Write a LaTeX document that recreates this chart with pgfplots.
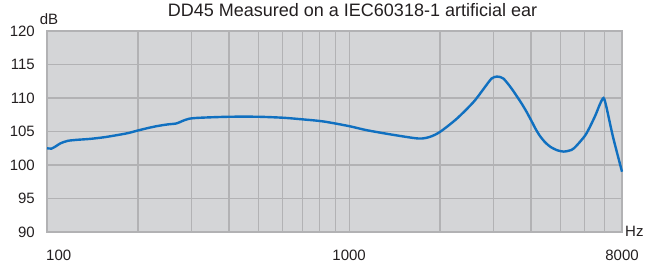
\documentclass[border=0pt]{standalone}
\usepackage{pgfplots}
\pgfplotsset{compat=1.18}
\usepackage{fontspec}
\setmainfont{Liberation Sans}
\definecolor{bg}{RGB}{212,213,215}
\definecolor{gridc}{RGB}{178,178,180}
\definecolor{curve}{RGB}{16,112,192}
\definecolor{txt}{RGB}{35,31,32}
\begin{document}
\begin{tikzpicture}
\useasboundingbox (-47bp,-35bp) rectangle (598bp,232bp);
\begin{axis}[
  at={(0,0)}, anchor=south west,
  scale only axis, width=575bp, height=201bp,
  xmode=log, xmin=100, xmax=8000, ymin=90, ymax=120,
  ytick={90,95,100,105,110,115,120},
  yticklabels={90,95,100,105,110,115,120},
  xtick={1000,8000}, xticklabels={1000,8000},
  extra x ticks={100}, extra x tick labels={100},
  extra x tick style={xticklabel style={anchor=base west, xshift=-1bp}},
  minor xtick={200,300,400,500,600,700,800,900,2000,3000,4000,5000,6000,7000},
  xmajorgrids, xminorgrids, ymajorgrids,
  major grid style={gridc, line width=1.2bp},
  minor grid style={gridc, line width=1.2bp},
  axis background/.style={fill=bg},
  axis line style={gridc, line width=1.3bp},
  major tick length=0pt, minor tick length=0pt,
  tick style={draw=none},
  ticklabel style={font=\fontsize{15bp}{18bp}\selectfont, text=txt, inner sep=0pt},
  yticklabel style={anchor=east, xshift=-12bp},
  xticklabel style={anchor=base, yshift=-28bp},
  title={DD45 Measured on a IEC60318-1 artificial ear},
  title style={font=\fontsize{18bp}{21bp}\selectfont, text=txt, at={(axis description cs:0.5,1)}, anchor=base, inner sep=0pt, yshift=9bp, xshift=18bp},
  xlabel={Hz},
  xlabel style={font=\fontsize{15bp}{18bp}\selectfont, text=txt, at={(axis description cs:1,0)}, anchor=base west, inner sep=0pt, xshift=3bp, yshift=-4bp},
  clip=false,
]
\addplot[curve, line width=2.4bp, smooth, tension=0.45] coordinates {
(100,102.5) (103.5,102.45) (107,102.8) (111,103.25) (117,103.6) (125,103.75)
(139,103.9) (155,104.15) (170,104.45) (185,104.75) (198,105.1) (215,105.5)
(231,105.8) (250,106.05) (268,106.2) (280,106.55) (295,106.9) (320,107.05)
(400,107.2) (500,107.2) (606,107.05) (706,106.8) (822,106.5) (1000,105.8)
(1142,105.2) (1400,104.5) (1700,103.95) (1850,104.2) (2000,104.95) (2270,106.9)
(2580,109.4) (2790,111.4) (2960,112.9) (3090,113.2) (3240,112.9) (3450,111.4)
(3720,109.2) (3870,107.9) (4010,106.6) (4140,105.4) (4270,104.4) (4450,103.4)
(4640,102.7) (4880,102.2) (5130,102.0) (5350,102.15)
(5550,102.5) (6060,104.5) (6500,107.2) (6750,109.0) (6950,110.0) (7100,108.7)
(7470,104.2) (8000,99.0)
};
\node[anchor=base, font=\fontsize{15bp}{18bp}\selectfont, text=txt, inner sep=0pt, xshift=2bp, yshift=7bp] at (rel axis cs:0,1) {dB};
\end{axis}
\end{tikzpicture}
\end{document}
